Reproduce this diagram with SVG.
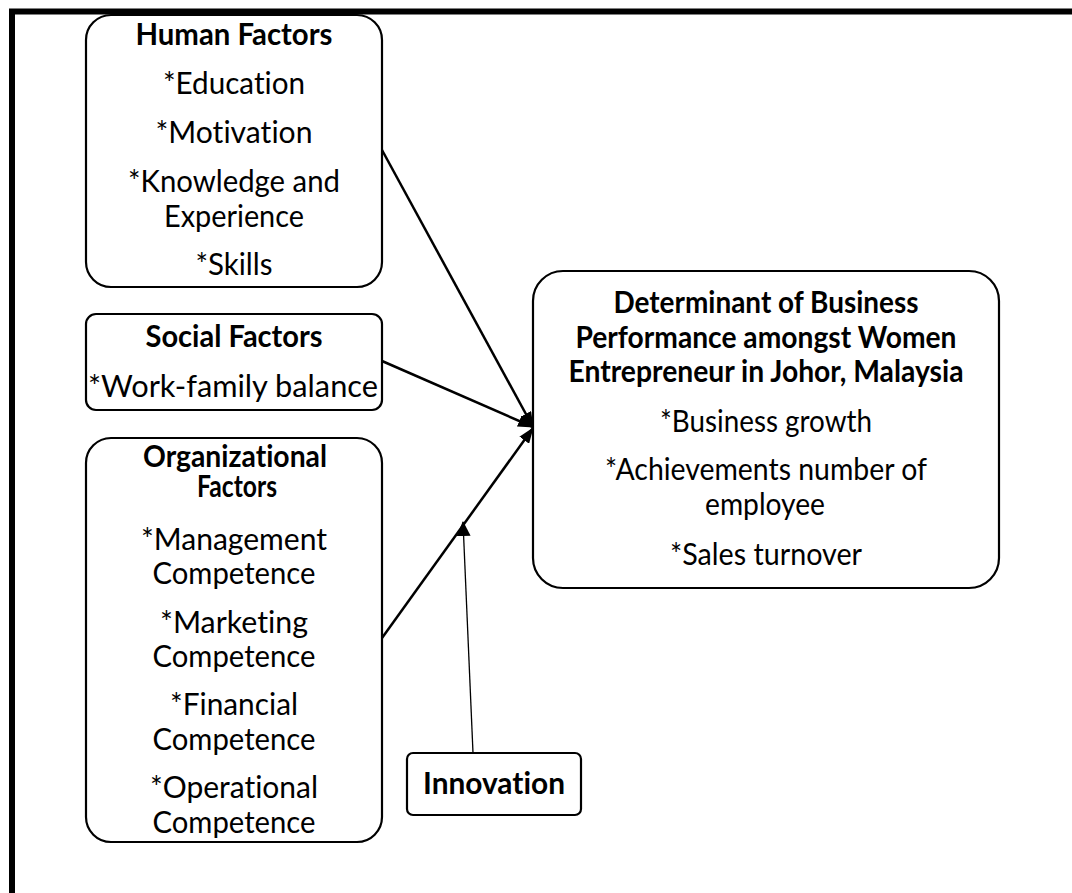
<svg xmlns="http://www.w3.org/2000/svg" width="1072" height="893" viewBox="0 0 1072 893">
<style>
.box{fill:#fff;stroke:#000;stroke-width:2.2}
.frame{fill:none;stroke:#000;stroke-width:6}
.t{font-family:Lato,'Liberation Sans',sans-serif;font-size:30px;text-anchor:middle;fill:#000;font-variant-ligatures:none}
.h{font-weight:bold}
.link{fill:none;stroke:#000;stroke-width:2.5}
.thin{fill:none;stroke:#000;stroke-width:1.3}
</style>
<defs>
<marker id="ah" viewBox="0 0 16 12" refX="15" refY="6" markerWidth="16" markerHeight="12" markerUnits="userSpaceOnUse" orient="auto">
<path d="M0,0 L16,6 L0,12 z" fill="#000"/>
</marker>
<marker id="ah2" viewBox="0 0 15 14" refX="14" refY="7" markerWidth="15" markerHeight="14" markerUnits="userSpaceOnUse" orient="auto">
<path d="M0,0 L15,7 L0,14 z" fill="#000"/>
</marker>
</defs>
<rect width="1072" height="893" fill="#fff"/>
<path class="frame" d="M12,893 V11.5 H1072"/>
<g id="connectors">
<line class="link" x1="382" y1="150" x2="533" y2="427" marker-end="url(#ah)"/>
<line class="link" x1="382" y1="361" x2="533" y2="427" marker-end="url(#ah)"/>
<line class="link" x1="382" y1="638" x2="533" y2="428" marker-end="url(#ah)"/>
<line class="thin" x1="473" y1="753" x2="463" y2="522" marker-end="url(#ah2)"/>
</g>
<g id="human">
<rect class="box" x="86" y="15" width="296" height="272" rx="25"/>
<text class="t h" x="234" y="45" textLength="197" lengthAdjust="spacingAndGlyphs">Human Factors</text>
<text class="t" x="234" y="94" textLength="142" lengthAdjust="spacingAndGlyphs">*Education</text>
<text class="t" x="234" y="143" textLength="157" lengthAdjust="spacingAndGlyphs">*Motivation</text>
<text class="t" x="234" y="192" textLength="212" lengthAdjust="spacingAndGlyphs">*Knowledge and</text>
<text class="t" x="234" y="227" textLength="140" lengthAdjust="spacingAndGlyphs">Experience</text>
<text class="t" x="234" y="275" textLength="77" lengthAdjust="spacingAndGlyphs">*Skills</text>
</g>
<g id="social">
<rect class="box" x="86" y="314" width="296" height="96" rx="10"/>
<text class="t h" x="234" y="347" textLength="177" lengthAdjust="spacingAndGlyphs">Social Factors</text>
<text class="t" x="233" y="397" textLength="290" lengthAdjust="spacingAndGlyphs">*Work-family balance</text>
</g>
<g id="organizational">
<rect class="box" x="86" y="438" width="296" height="404" rx="25"/>
<text class="t h" x="235" y="467" textLength="184" lengthAdjust="spacingAndGlyphs">Organizational</text>
<text class="t h" x="237" y="497" textLength="80" lengthAdjust="spacingAndGlyphs">Factors</text>
<text class="t" x="234" y="550" textLength="186" lengthAdjust="spacingAndGlyphs">*Management</text>
<text class="t" x="234" y="584" textLength="163" lengthAdjust="spacingAndGlyphs">Competence</text>
<text class="t" x="234" y="633" textLength="148" lengthAdjust="spacingAndGlyphs">*Marketing</text>
<text class="t" x="234" y="667" textLength="163" lengthAdjust="spacingAndGlyphs">Competence</text>
<text class="t" x="234" y="715" textLength="128" lengthAdjust="spacingAndGlyphs">*Financial</text>
<text class="t" x="234" y="750" textLength="163" lengthAdjust="spacingAndGlyphs">Competence</text>
<text class="t" x="234" y="798" textLength="168" lengthAdjust="spacingAndGlyphs">*Operational</text>
<text class="t" x="234" y="833" textLength="163" lengthAdjust="spacingAndGlyphs">Competence</text>
</g>
<g id="determinant">
<rect class="box" x="533" y="271" width="466" height="317" rx="30"/>
<text class="t h" x="766" y="313" textLength="305" lengthAdjust="spacingAndGlyphs">Determinant of Business</text>
<text class="t h" x="766" y="348" textLength="381" lengthAdjust="spacingAndGlyphs">Performance amongst Women</text>
<text class="t h" x="766" y="382" textLength="395" lengthAdjust="spacingAndGlyphs">Entrepreneur in Johor, Malaysia</text>
<text class="t" x="766" y="432" textLength="212" lengthAdjust="spacingAndGlyphs">*Business growth</text>
<text class="t" x="766" y="480" textLength="322" lengthAdjust="spacingAndGlyphs">*Achievements number of</text>
<text class="t" x="765" y="515" textLength="120" lengthAdjust="spacingAndGlyphs">employee</text>
<text class="t" x="766" y="565" textLength="192" lengthAdjust="spacingAndGlyphs">*Sales turnover</text>
</g>
<g id="innovation">
<rect class="box" x="407" y="753" width="174" height="62" rx="6"/>
<text class="t h" x="494" y="794" textLength="142" lengthAdjust="spacingAndGlyphs">Innovation</text>
</g>
</svg>
